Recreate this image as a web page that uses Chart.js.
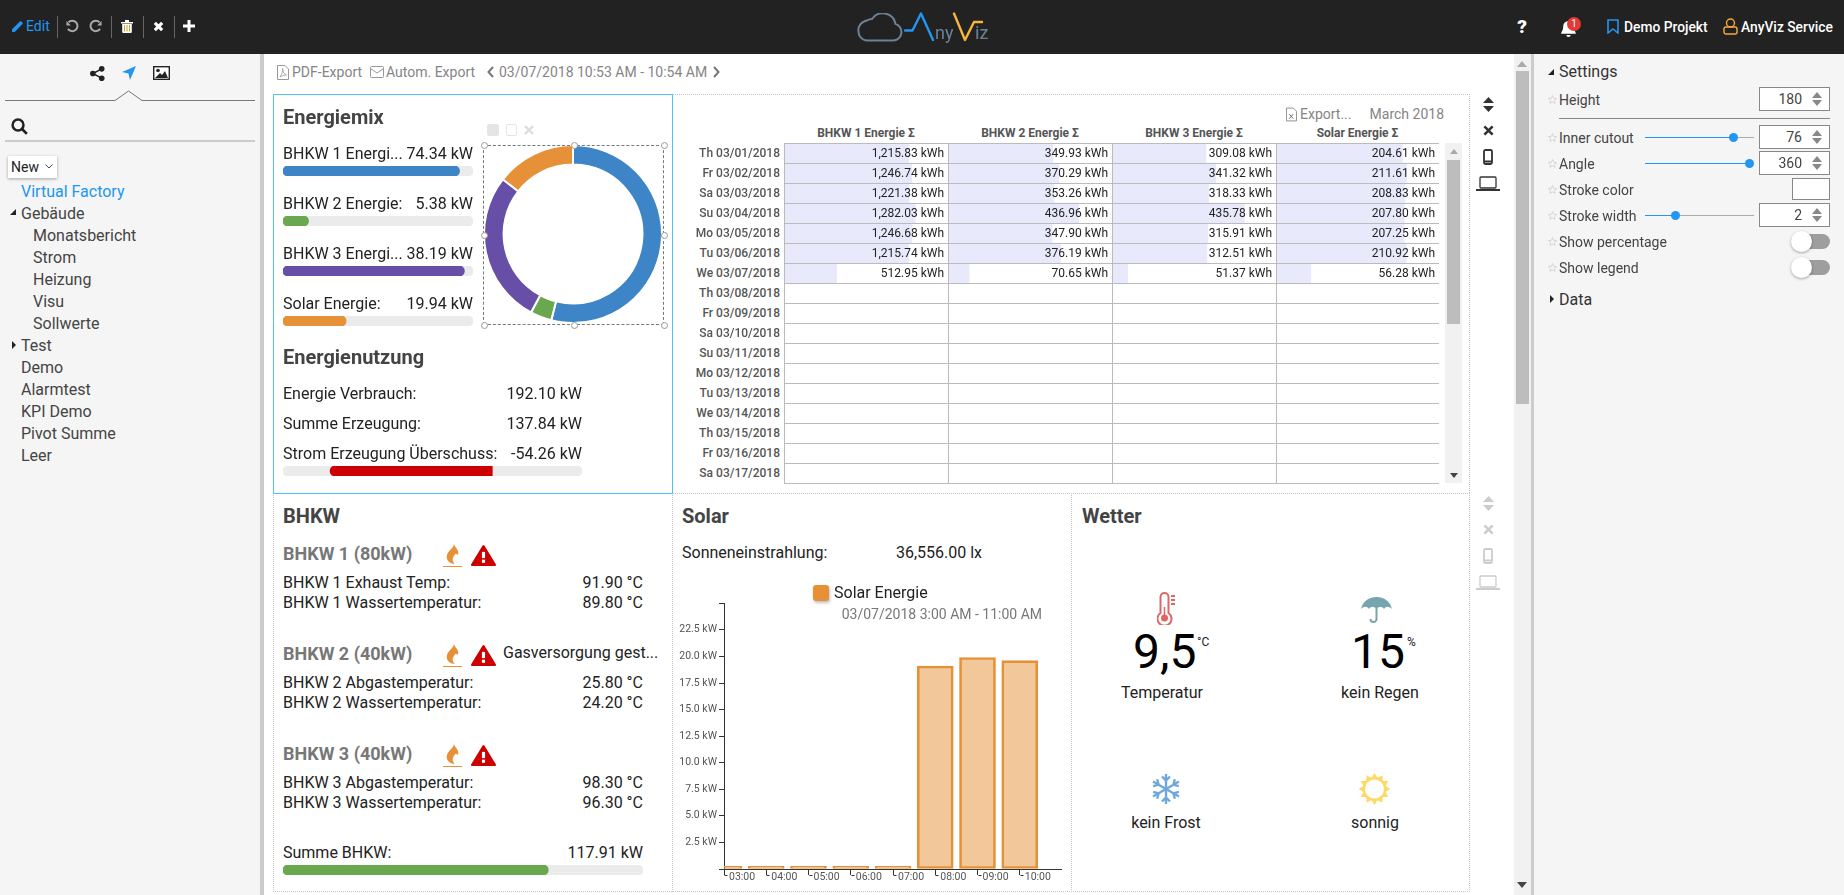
<!DOCTYPE html>
<html lang="de"><head><meta charset="utf-8"><title>AnyViz</title>
<script src="https://cdn.jsdelivr.net/npm/chart.js@4"></script>
<style>
html,body{margin:0;padding:0;width:1844px;height:895px;overflow:hidden;background:#fff;font-family:Roboto,sans-serif;color:#222}
#app{position:relative;width:1844px;height:895px;overflow:hidden}
#app>*{position:absolute}
.t{white-space:nowrap;line-height:1.2}
canvas{display:block}
</style></head><body><div id="app"></div>
<script>
// ---------- data ----------
const energyLabels=['BHKW 1 Energi...','BHKW 2 Energie:','BHKW 3 Energi...','Solar Energie:'];
const energySeries=['BHKW 1 Energie','BHKW 2 Energie','BHKW 3 Energie','Solar Energie'];
const energyValues=[74.34,5.38,38.19,19.94];
const energyMax=[80,40,40,60];
const energyColors=['#3d85c6','#6aa84f','#674ea7','#e69138'];
const usageLabels=['Energie Verbrauch:','Summe Erzeugung:','Strom Erzeugung Überschuss:'];
const usageValues=[192.10,137.84,-54.26];
const surplusRange=[-70,30];
const tableDates=['Th 03/01/2018','Fr 03/02/2018','Sa 03/03/2018','Su 03/04/2018','Mo 03/05/2018','Tu 03/06/2018','We 03/07/2018','Th 03/08/2018','Fr 03/09/2018','Sa 03/10/2018','Su 03/11/2018','Mo 03/12/2018','Tu 03/13/2018','We 03/14/2018','Th 03/15/2018','Fr 03/16/2018','Sa 03/17/2018'];
const tableHeaders=['BHKW 1 Energie Σ','BHKW 2 Energie Σ','BHKW 3 Energie Σ','Solar Energie Σ'];
const bhkw1Month=[1215.83,1246.74,1221.38,1282.03,1246.68,1215.74,512.95];
const bhkw2Month=[349.93,370.29,353.26,436.96,347.90,376.19,70.65];
const bhkw3Month=[309.08,341.32,318.33,435.78,315.91,312.51,51.37];
const solarMonth=[204.61,211.61,208.83,207.80,207.25,210.92,56.28];
const tableMax=[1600,548,540,264];
const solarHours=['03:00','04:00','05:00','06:00','07:00','08:00','09:00','10:00','11:00'];
const solarKw=[0.25,0.25,0.25,0.25,0.25,19.1,19.9,19.6];
const bhkwSum=117.91, bhkwSumMax=160;
const treeItems=[['Virtual Factory',21,'#2196f3'],['Gebäude',21],['Monatsbericht',33],['Strom',33],['Heizung',33],['Visu',33],['Sollwerte',33],['Test',21],['Demo',21],['Alarmtest',21],['KPI Demo',21],['Pivot Summe',21],['Leer',21]];

// ---------- helpers ----------
const app=document.getElementById('app');
function box(x,y,w,h,css=''){const d=document.createElement('div');d.style.cssText=`left:${x}px;top:${y}px;width:${w}px;height:${h}px;${css}`;app.appendChild(d);return d;}
function T(x,y,s,o={}){const d=document.createElement('div');d.className='t';const tx=o.a==='r'?'-100%':o.a==='c'?'-50%':'0';
 const size=o.s||16, yy=(size===16)?y+1:y;
 d.style.cssText=`left:${x}px;top:${yy}px;transform:translate(${tx},-50%);font-size:${size}px;font-weight:${o.w||400};color:${o.c||'#222'};z-index:5`;d.textContent=s;app.appendChild(d);return d;}
function S(x,y,w,h,vb,inner){const d=document.createElement('div');d.style.cssText=`left:${x-w/2}px;top:${y-h/2}px;width:${w}px;height:${h}px;z-index:6`;
 d.innerHTML=`<svg xmlns="http://www.w3.org/2000/svg" width="${w}" height="${h}" viewBox="${vb}" style="display:block">${inner}</svg>`;app.appendChild(d);}
function C(x,y,w,h,z=2){const c=document.createElement('canvas');c.width=w;c.height=h;c.style.cssText=`left:${x}px;top:${y}px;width:${w}px;height:${h}px;z-index:${z}`;app.appendChild(c);return c;}
const noPlugins={legend:{display:false},tooltip:{enabled:false}};
function progress(x,y,w,from,to,min,max,color,radius){
 new Chart(C(x,y,w,10),{type:'bar',data:{labels:[''],datasets:[
   {data:[[from,to]],backgroundColor:color,borderRadius:radius,borderSkipped:false,grouped:false,barPercentage:1,categoryPercentage:1},
   {data:[[min,max]],backgroundColor:'#ebebeb',borderRadius:5,borderSkipped:false,grouped:false,barPercentage:1,categoryPercentage:1}]},
  options:{indexAxis:'y',responsive:false,animation:false,events:[],layout:{padding:0},plugins:noPlugins,
   scales:{x:{display:false,min,max},y:{display:false}}}});
}

// ---------- chrome ----------
box(0,0,1844,54,'background:#222');
box(0,54,260,841,'background:#f5f5f5');
box(260,54,4,841,'background:#ccc');
box(1534,54,310,841,'background:#f5f5f5');
box(1531,54,3,841,'background:#ccc');
box(1514,54,17,841,'background:#f1f1f1');
box(1516,71,13,333,'background:#bdbdbd');
S(1522,64,10,6,'0 0 10 6','<path d="M5 0L10 6H0z" fill="#aaa"/>');
S(1522,885,10,6,'0 0 10 6','<path d="M5 6L0 0H10z" fill="#444"/>');

// top bar left
S(17,26,13,13,'0 0 12 12','<path d="M1 8.6L8.2 1.4a1 1 0 0 1 1.3 0l1.1 1.1a1 1 0 0 1 0 1.3L3.4 11H1z" fill="#2196f3"/>');
T(26,26,'Edit',{s:14,w:400,c:'#2196f3'});
[57,111,143,174].forEach(x=>box(x,16,1,22,'background:#666;z-index:4'));
S(72,26,14,14,'0 0 24 24','<path d="M6 5.5A9 9 0 1 1 5 17" fill="none" stroke="#aaa" stroke-width="3.4"/><path d="M2.5 3.5V11H10z" fill="#aaa"/>');
S(96,26,14,14,'0 0 24 24','<path d="M18 5.5A9 9 0 1 0 19 17" fill="none" stroke="#aaa" stroke-width="3.4"/><path d="M21.5 3.5V11H14z" fill="#aaa"/>');
S(127,26,12,13,'0 0 12 13','<path d="M0 2h12v1.5H0zM4 0h4v2H4z" fill="#fff"/><path d="M1.2 4H10.8V12a1 1 0 0 1-1 1H2.2a1 1 0 0 1-1-1z" fill="#fff"/><path d="M3.5 5v6.5M6 5v6.5M8.5 5v6.5" stroke="#c9a227" stroke-width="1"/>');
S(158,26,11,11,'0 0 12 12','<path d="M2 2L10 10M10 2L2 10" stroke="#fff" stroke-width="3.4"/>');
S(189,26,12,12,'0 0 12 12','<path d="M6 0V12M0 6H12" stroke="#fff" stroke-width="3"/>');
// logo
S(880,27,46,29,'0 0 46 29','<path d="M10 27.5H36a8.5 8.5 0 0 0 2.5-16.6A13 13 0 0 0 15 6a10 10 0 0 0-5 1.5A10 10 0 0 0 1.5 19a9 9 0 0 0 8.5 8.5z" fill="none" stroke="#6c8296" stroke-width="2"/>');
S(920,27,32,30,'0 0 32 30','<path d="M1 18.5H8.5L17 1.5L29 28" fill="none" stroke="#2196f3" stroke-width="2.4" stroke-linecap="round" stroke-linejoin="round"/>');
T(935,33,'ny',{s:18,c:'#6c8296'});
S(968,27,32,30,'0 0 32 30','<path d="M2 1.5L13 28L22 10H30" fill="none" stroke="#f6b53d" stroke-width="2.4" stroke-linecap="round" stroke-linejoin="round"/>');
T(975,33,'iz',{s:18,c:'#6c8296'});
// top bar right
T(1522,27,'?',{s:19,w:900,c:'#fff',a:'c'});
S(1568,28,17,17,'0 0 16 16','<path d="M8 1a5 5 0 0 1 5 5c0 4 2 5 2 7H1c0-2 2-3 2-7a5 5 0 0 1 5-5zM6 14h4a2 2 0 0 1-4 0z" fill="#fff"/>');
box(1567,17,14,14,'background:#e53935;border-radius:50%;z-index:7');
T(1574,24,'1',{s:10,c:'#fff',a:'c'}).style.zIndex=8;
S(1613,26,12,15,'0 0 12 15','<path d="M1 1H11V14L6 10L1 14z" fill="none" stroke="#2196f3" stroke-width="1.6"/>');
T(1624,27,'Demo Projekt',{s:13.8,w:500,c:'#fff'});
S(1730,26,15,17,'0 0 15 17','<circle cx="7.5" cy="5" r="4" fill="none" stroke="#f6a93b" stroke-width="1.4"/><path d="M3 9h9a2 2 0 0 1 2 2v3a2 2 0 0 1-2 2H3a2 2 0 0 1-2-2v-3a2 2 0 0 1 2-2z" fill="none" stroke="#f6a93b" stroke-width="1.4"/>');
T(1741,27,'AnyViz Service',{s:13.8,w:500,c:'#fff'});

// sidebar
S(97,73,15,15,'0 0 16 16','<circle cx="12.5" cy="3" r="3" fill="#222"/><circle cx="3" cy="8" r="3" fill="#222"/><circle cx="12.5" cy="13" r="3" fill="#222"/><path d="M12.5 3L3 8L12.5 13" stroke="#222" stroke-width="1.6" fill="none"/>');
S(129,73,14,14,'0 0 14 14','<path d="M14 0L8 14L6.5 7.5L0 6z" fill="#2196f3"/>');
S(161,73,17,14,'0 0 17 14','<rect x=".7" y=".7" width="15.6" height="12.6" fill="#fff" stroke="#222" stroke-width="1.4"/><circle cx="5" cy="4.5" r="1.8" fill="#222"/><path d="M2 12L7 7l2 2 3-4 3 7z" fill="#222"/>');
S(130,96,260,12,'0 0 260 12','<path d="M5 10.5H115L128.5 1L142 10.5H255" fill="none" stroke="#777" stroke-width="1"/>');
S(19,126,17,17,'0 0 15 15','<circle cx="6.2" cy="6.2" r="4.8" fill="none" stroke="#222" stroke-width="2.2"/><path d="M9.5 9.5L14 14" stroke="#222" stroke-width="2.4"/>');
box(5,140,250,2,'background:#ccc');
box(8,156,49,22,'background:#fff;box-shadow:0 1px 3px rgba(0,0,0,.35);z-index:3');
T(11,167,'New',{s:14});
S(49,166,8,5,'0 0 8 5','<path d="M.5.5L4 4L7.5.5" fill="none" stroke="#444"/>');
treeItems.forEach((it,i)=>T(it[1],190.5+22*i,it[0],{s:16,c:it[2]||'#444'}));
S(12.5,212,6,6,'0 0 6 6','<path d="M6 0V6H0z" fill="#222"/>');
S(14,345,4,8,'0 0 4 8','<path d="M0 0L4 4L0 8z" fill="#222"/>');

// top action row
const grey='#858585';
S(283,72,12,15,'0 0 12 15','<path d="M.5.5H8L11.5 4V14.5H.5z" fill="none" stroke="#999"/><path d="M3 12C5 9 6 6 5.6 3.5C6 7 7 9 9.5 10C7 10 5 10.7 3 12z" fill="none" stroke="#999" stroke-width=".8"/>');
T(292,72,'PDF-Export',{s:14,c:grey});
S(377,72,14,12,'0 0 14 12','<rect x=".5" y=".5" width="13" height="11" rx="1" fill="none" stroke="#999"/><path d="M.5 2.5L7 7L13.5 2.5" fill="none" stroke="#999"/>');
T(386,72,'Autom. Export',{s:14,c:grey});
S(490,72,7,12,'0 0 7 12','<path d="M6 1L1.5 6L6 11" fill="none" stroke="#777" stroke-width="2"/>');
T(499,72,'03/07/2018 10:53 AM - 10:54 AM',{s:14,c:grey});
S(716,72,7,12,'0 0 7 12','<path d="M1 1L5.5 6L1 11" fill="none" stroke="#777" stroke-width="2"/>');

// panel frames
const dot='1px dotted #c4c4c4';
box(672,94,798,399,`border-top:${dot};border-right:${dot};box-sizing:border-box`);
box(273,493,1197,399,`border:${dot};box-sizing:border-box`);
box(672,493,400,399,`border-left:${dot};border-right:${dot};box-sizing:border-box`);
box(273,94,400,400,'border:1px solid #4fc3f7;box-sizing:border-box;z-index:3');

// Energiemix
T(283,117,'Energiemix',{s:20,w:700,c:'#444'});
energyLabels.forEach((l,i)=>{
 const y=153+50*i;
 T(283,y,l);T(473,y,energyValues[i].toFixed(2)+' kW',{a:'r'});
 progress(283,166+50*i,190,0,energyValues[i],0,energyMax[i],energyColors[i],5);
});
new Chart(C(483,144,180,180),{type:'doughnut',
 data:{labels:energySeries,datasets:[{data:energyValues,backgroundColor:energyColors,borderColor:'#fff',borderWidth:2}]},
 options:{responsive:false,animation:false,events:[],cutout:'78%',layout:{padding:0},plugins:noPlugins}});
box(483,145,181,180,'border:1px dashed #777;box-sizing:border-box;z-index:3');
[[484,145],[574,145],[664,145],[484,235],[664,235],[484,325],[574,325],[664,325]].forEach(p=>box(p[0]-3.5,p[1]-3.5,7,7,'background:#fff;border:1px solid #999;border-radius:50%;box-sizing:border-box;z-index:4'));
box(487,124,12,12,'background:#e5e5e5;border-radius:2px');
box(506,124,11,12,'border:1px solid #e5e5e5;border-radius:2px;box-sizing:border-box');
S(529,130,10,10,'0 0 10 10','<path d="M1 1L9 9M9 1L1 9" stroke="#ddd" stroke-width="2.4"/>');

// Energienutzung
T(283,357,'Energienutzung',{s:20,w:700,c:'#444'});
usageLabels.forEach((l,i)=>{const y=393+30*i;T(283,y,l);T(582,y,usageValues[i].toFixed(2)+' kW',{a:'r'});});
progress(283,466,299,usageValues[2],0,surplusRange[0],surplusRange[1],'#cc0000',{topLeft:5,bottomLeft:5,topRight:0,bottomRight:0});

// Pivot table
const colX=[784,948,1112,1276,1439];
const monthSeries=[bhkw1Month,bhkw2Month,bhkw3Month,solarMonth];
S(1291,114,11,15,'0 0 12 15','<path d="M.5.5H8L11.5 4V14.5H.5z" fill="none" stroke="#888"/><path d="M3.5 7L8 12M8 7L3.5 12" stroke="#666"/>');
T(1300,114,'Export...',{s:14,c:grey});
T(1444,114,'March 2018',{s:14,c:grey,a:'r'});
tableHeaders.forEach((h,i)=>T((colX[i]+colX[i+1])/2,133,h,{s:12,w:700,c:'#555',a:'c'}));
monthSeries.forEach((vals,i)=>{
 const w=colX[i+1]-colX[i];
 new Chart(C(colX[i],143,w,340,2),{type:'bar',
  data:{labels:tableDates,datasets:[{data:vals,backgroundColor:'#e9e9fc',barPercentage:1,categoryPercentage:1}]},
  options:{indexAxis:'y',responsive:false,animation:false,events:[],layout:{padding:0},plugins:noPlugins,
   scales:{x:{display:false,min:0,max:tableMax[i]},y:{display:false}}}});
 vals.forEach((v,r)=>T(colX[i+1]-4,153+20*r,v.toLocaleString('en-US',{minimumFractionDigits:2,maximumFractionDigits:2})+' kWh',{s:12,c:'#222',a:'r'}));
});
tableDates.forEach((d,r)=>{T(780,153+20*r,d,{s:12,w:500,c:'#555',a:'r'});box(784,143+20*r,655,1,'background:#bbb;z-index:3');});
box(784,483,655,1,'background:#bbb;z-index:3');
colX.slice(0,4).forEach(x=>box(x,143,1,340,'background:#bbb;z-index:3'));
box(1445,143,17,340,'background:#f1f1f1');
box(1447,160,13,164,'background:#bdbdbd');
S(1453.5,151,8,5,'0 0 10 6','<path d="M5 0L10 6H0z" fill="#aaa"/>');
S(1453.5,475,8,5,'0 0 10 6','<path d="M5 6L0 0H10z" fill="#444"/>');

// side tool columns
function tools(y,c){
 S(1488,y,11,15,'0 0 11 15',`<path d="M5.5 0L11 6H0zM5.5 15L0 9H11z" fill="${c}"/>`);
 S(1488,y+26,11,11,'0 0 12 12',`<path d="M1.5 1.5L10.5 10.5M10.5 1.5L1.5 10.5" stroke="${c}" stroke-width="2.8"/>`);
 S(1488,y+53,10,16,'0 0 10 16',`<rect x="1" y="1" width="8" height="14" rx="1.5" fill="none" stroke="${c}" stroke-width="1.8"/><path d="M1 12.5H9" stroke="${c}" stroke-width="2"/>`);
 S(1488,y+79,24,15,'0 0 24 15',`<rect x="4" y="1" width="16" height="11" rx="1" fill="none" stroke="${c}" stroke-width="1.3"/><path d="M0 14H24" stroke="${c}" stroke-width="2"/>`);
}
tools(104,'#333');tools(503,'#ccc');

// BHKW
const flame='<path d="M9 0C11 5 3 7 3 13C3 17 7 19 10 19C7 16 8 13 11 10C12 11 13 12 13 9C13 6 9 4 9 0z" fill="#e69138"/>';
const warn='<path d="M12 2L23 20H1z" fill="#cc0000" stroke="#cc0000" stroke-width="2" stroke-linejoin="round"/><rect x="10.5" y="7.5" width="3" height="6" fill="#fff"/><rect x="10.5" y="15" width="3" height="3" fill="#fff"/>';
T(283,516,'BHKW',{s:20,w:700,c:'#444'});
const bhkwBlocks=[
 ['BHKW 1 (80kW)','BHKW 1 Exhaust Temp:','91.90 °C','BHKW 1 Wassertemperatur:','89.80 °C'],
 ['BHKW 2 (40kW)','BHKW 2 Abgastemperatur:','25.80 °C','BHKW 2 Wassertemperatur:','24.20 °C'],
 ['BHKW 3 (40kW)','BHKW 3 Abgastemperatur:','98.30 °C','BHKW 3 Wassertemperatur:','96.30 °C']];
bhkwBlocks.forEach((b,i)=>{const o=100*i;
 T(283,554+o,b[0],{s:18,w:700,c:'#777'});
 S(452,553+o,19,22,'0 0 16 19',flame);box(443,566+o,19,1,'background:#e69138;z-index:7');
 S(483,555+o,25,22,'0 0 24 21',warn);
 T(283,582+o,b[1]);T(643,582+o,b[2],{a:'r'});
 T(283,602+o,b[3]);T(643,602+o,b[4],{a:'r'});
});
T(503,652,'Gasversorgung gest...',{s:16});
T(283,852,'Summe BHKW:');T(643,852,bhkwSum.toFixed(2)+' kW',{a:'r'});
progress(283,865,360,0,bhkwSum,0,bhkwSumMax,'#6aa84f',5);

// Solar
T(682,516,'Solar',{s:20,w:700,c:'#444'});
T(682,552,'Sonneneinstrahlung:');T(982,552,'36,556.00 lx',{a:'r'});
box(813,585,16,16,'background:#e69138;border-radius:3px;box-shadow:1px 2px 3px rgba(0,0,0,.25)');
T(834,592,'Solar Energie');
T(1042,614,'03/07/2018 3:00 AM - 11:00 AM',{s:14,c:'#777',a:'r'}).style.zIndex=6;
const tickFoot={id:'tickFoot',afterDraw(ch){const s=ch.scales.x,g=ch.ctx;g.save();g.strokeStyle='#333';g.lineWidth=1;g.beginPath();
 s.ticks.forEach((t,i)=>{const x=Math.round(s.getPixelForTick(i))+.5,y=s.top+6.5;g.moveTo(x,y);g.lineTo(x+3,y);});g.stroke();g.restore();}};
new Chart(C(672,595,390,300),{type:'bar',plugins:[tickFoot],
 data:{labels:solarHours,datasets:[{label:'Solar Energie',data:solarKw,backgroundColor:'rgba(230,145,56,.5)',borderColor:'#e69138',borderWidth:2,barThickness:36,borderSkipped:false}]},
 options:{responsive:false,animation:false,events:[],layout:{padding:{top:7,right:0,left:0,bottom:0}},plugins:noPlugins,
  scales:{
   x:{offset:false,border:{color:'#333',width:1},grid:{offset:false,drawOnChartArea:false,color:'#333',tickLength:6},
      afterBuildTicks:s=>{s.ticks=s.ticks.slice(0,8);},
      afterFit:s=>{s.height=26;},
      ticks:{autoSkip:false,maxRotation:0,align:'start',labelOffset:5,padding:-4,color:'#555',font:{family:'Roboto',size:10.5}}},
   y:{min:0,max:25,border:{color:'#333',width:1},grid:{drawOnChartArea:false,color:'#333',tickLength:5},
      afterFit:s=>{s.width=52;},
      ticks:{stepSize:2.5,padding:2,color:'#555',font:{family:'Roboto',size:10.5},
       callback:v=>(v===0||v===25)?'':v.toFixed(1)+' kW'}}
  }}});

// Wetter
T(1082,516,'Wetter',{s:20,w:700,c:'#444'});
S(1166,608,19,33,'0 0 19 33','<path d="M3.5 21V5a4 4 0 0 1 8 0V21a7 7 0 1 1-8 0z" fill="none" stroke="#e06666" stroke-width="2"/><circle cx="7.5" cy="26" r="3.5" fill="#e06666"/><path d="M7.5 26V15" stroke="#e06666" stroke-width="1.5"/><path d="M14 4h4M14 8h4M14 12h4" stroke="#e06666" stroke-width="2"/>');
T(1133,652,'9,5',{s:48,c:'#000'});
T(1197,642,'°C',{s:12,c:'#222'});
T(1162,692,'Temperatur',{a:'c'});
S(1376,608,31,29,'0 0 31 29','<path d="M15.5 0V3C7 3 1.5 8 0 15C3 12 6 12 8 15C10 12 13 12 15.5 15C18 12 21 12 23 15C25 12 28 12 31 15C29.5 8 24 3 15.5 3z" fill="#76a5af"/><path d="M15.5 13V25a3 3 0 0 1-6 0" fill="none" stroke="#76a5af" stroke-width="2"/>');
T(1351,652,'15',{s:48,c:'#000'});
T(1407,642,'%',{s:12,c:'#222'});
T(1380,692,'kein Regen',{a:'c'});
S(1166,789,30,32,'0 0 30 32','<g stroke="#6fa8dc" stroke-width="2.4" fill="none">'+[0,60,120].map(a=>`<g transform="rotate(${a} 15 16)"><path d="M15 1V31M11 3.5L15 7.5L19 3.5M11 28.5L15 24.5L19 28.5"/></g>`).join('')+'</g>');
T(1166,822,'kein Frost',{a:'c'});
S(1374,789,31,32,'0 0 31 32','<circle cx="15.5" cy="16" r="12" fill="#ffd966"/>'+[0,30,60,90,120,150,180,210,240,270,300,330].map(a=>`<path transform="rotate(${a} 15.5 16)" d="M15.5 0L19 6H12z" fill="#ffd966"/>`).join('')+'<circle cx="15.5" cy="16" r="9.5" fill="#fff"/>');
T(1375,822,'sonnig',{a:'c'});

// settings panel
S(1551,72,6,6,'0 0 6 6','<path d="M6 0V6H0z" fill="#222"/>');
T(1559,71,'Settings',{s:16,c:'#333'});
S(1552,299,4,8,'0 0 4 8','<path d="M0 0L4 4L0 8z" fill="#222"/>');
T(1559,298.5,'Data',{s:16,c:'#333'});
const star=y=>S(1552.5,y,9,9,'0 0 10 10','<path d="M5 .6L6.3 3.7L9.6 4L7.1 6.2L7.9 9.4L5 7.7L2.1 9.4L2.9 6.2L.4 4L3.7 3.7z" fill="none" stroke="#ccc" stroke-width=".8"/>');
function row(y,label){star(y);T(1559,y+.5,label,{s:14,c:'#444'});}
function input(y,v){box(1759,y-12,71,24,'background:#fff;border:1px solid #888;box-sizing:border-box;z-index:3');
 T(1802,y,v,{s:14,c:'#444',a:'r'});S(1817,y,10,14,'0 0 10 14','<path d="M5 0L10 6H0zM5 14L0 8H10z" fill="#888"/>');}
function slider(y,tx){box(1645,y-.5,109,1,'background:#aaa');box(1645,y-.5,tx-1645,1,'background:#2196f3');box(tx-4.5,y-4.5,9,9,'background:#2196f3;border-radius:50%;z-index:3');}
row(99,'Height');input(99,'180');
box(1559,118,271,1,'background:#888');
row(137,'Inner cutout');slider(137,1733);input(137,'76');
row(163,'Angle');slider(163,1749);input(163,'360');
row(189,'Stroke color');box(1792,178,38,22,'background:#fff;border:1px solid #888;box-sizing:border-box');
row(215,'Stroke width');slider(215,1675);input(215,'2');
[[241,'Show percentage'],[267,'Show legend']].forEach(r=>{row(r[0],r[1]);
 box(1793,r[0]-7.5,37,15,'background:#9e9e9e;border-radius:8px');
 box(1791,r[0]-10.5,21,21,'background:#fff;border-radius:50%;box-shadow:0 1px 3px rgba(0,0,0,.35);z-index:3');});
</script></body></html>
